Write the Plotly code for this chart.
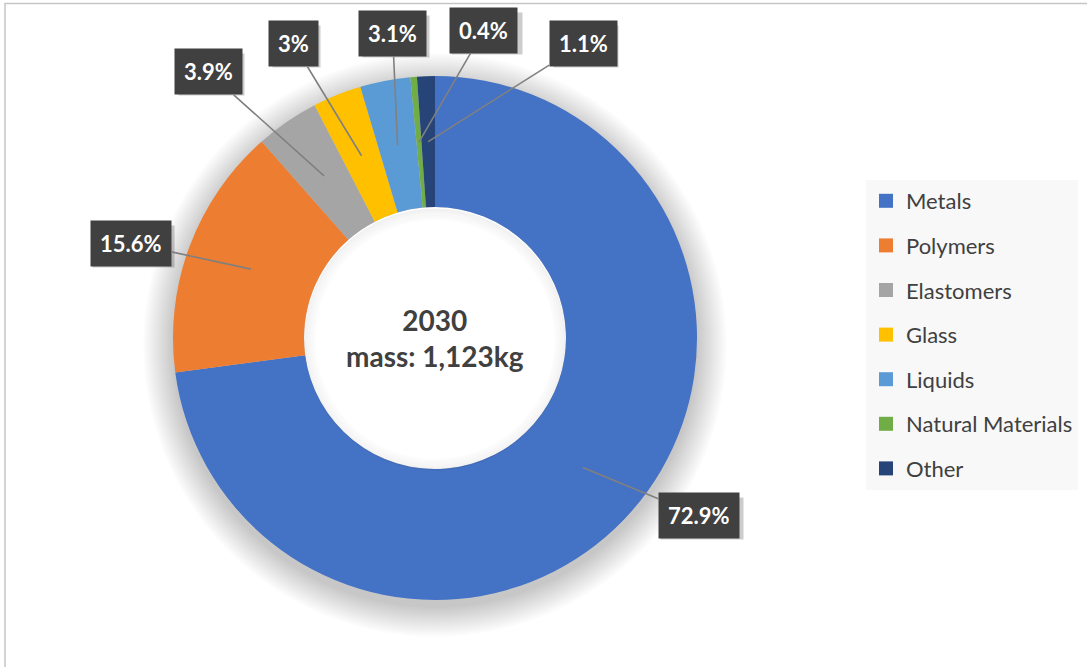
import math
import plotly.graph_objects as go

# ---- data ----
categories = ["Metals", "Polymers", "Elastomers", "Glass", "Liquids", "Natural Materials", "Other"]
shares = [72.9, 15.6, 3.9, 3.0, 3.1, 0.4, 1.1]
label_texts = ["72.9%", "15.6%", "3.9%", "3%", "3.1%", "0.4%", "1.1%"]
colors = ["#4472C4", "#ED7D31", "#A5A5A5", "#FFC000", "#5B9BD5", "#70AD47", "#264478"]
center_title = "2030"
center_sub = "mass: 1,123kg"

# ---- layout helpers ----
W, H = 1087, 667
label_offsets = [(116, 48), (-120, -26), (-116, -104), (-68, -112), (-5, -112), (65, -112), (155, -98)]
label_box_widths = [64, 63, 47, 29, 48, 52, 46]   # text box widths (px) used for the drop shadows
dom_x = [173 / W, 697 / W]
dom_y = [1 - 601 / H, 1 - 75 / H]
cx = (dom_x[0] + dom_x[1]) / 2
cy = (dom_y[0] + dom_y[1]) / 2
R = min((dom_x[1] - dom_x[0]) * W, (dom_y[1] - dom_y[0]) * H) / 2
hole = 0.5

fig = go.Figure()
fig.add_trace(go.Pie(
    labels=categories, values=shares, sort=False, direction="clockwise", rotation=0,
    hole=hole, marker=dict(colors=colors, line=dict(width=0)),
    textinfo="none", hoverinfo="label+percent", showlegend=False,
    domain=dict(x=dom_x, y=dom_y),
))

# legend entries
for cat, col in zip(categories, colors):
    fig.add_trace(go.Scatter(
        x=[None], y=[None], mode="markers", name=cat, legendgroup=cat,
        marker=dict(symbol="square", size=14, color=col), hoverinfo="skip",
    ))

def circ(r, dy=0.0, **kw):
    return dict(type="circle", xref="paper", yref="paper", xsizemode="pixel", ysizemode="pixel",
                xanchor=cx, yanchor=cy, x0=-r, x1=r, y0=-r + dy, y1=r + dy, **kw)

shapes = []
# soft shadow behind the ring
for i in range(14):
    r = R + 1 + i * 2.2
    shapes.append(circ(r, dy=-7, fillcolor="rgba(0,0,0,0.014)", line=dict(width=0), layer="below"))
# keep the hole clean
shapes.append(circ(R * hole, fillcolor="white", line=dict(width=0), layer="below"))
# inner shadow of the hole
for i in range(7):
    r = R * hole - 1 - i * 1.6
    shapes.append(circ(r, dy=-1.5, fillcolor="rgba(0,0,0,0)",
                       line=dict(width=1.8, color="rgba(0,0,0,%.3f)" % (0.05 - i * 0.0065)), layer="above"))
# frame
shapes.append(dict(type="rect", xref="paper", yref="paper",
                   x0=5 / W, x1=1.02, y0=-0.02, y1=1 - 3.5 / H,
                   line=dict(color="#c6c6c6", width=1.5), fillcolor="rgba(0,0,0,0)"))

annotations = []
total = sum(shares)
cum = 0.0
lab_font = dict(family="Lato", size=22, weight="bold")
for val, txt, (ox, oy), bw in zip(shares, label_texts, label_offsets, label_box_widths):
    mid = (cum + val / 2) / total * 2 * math.pi
    cum += val
    rho = R * (1 + hole) / 2
    ax_p = cx + rho * math.sin(mid) / W
    ay_p = cy + rho * math.cos(mid) / H
    # box drop shadow (empty box)
    annotations.append(dict(
        x=ax_p, y=ay_p, xref="paper", yref="paper", showarrow=True,
        ax=ox + 3, ay=oy + 3, text="\u00a0", width=bw, height=23,
        arrowcolor="rgba(0,0,0,0)", arrowwidth=0.1, arrowhead=0,
        font=dict(color="rgba(0,0,0,0)", **lab_font),
        bgcolor="rgba(0,0,0,0.2)", borderpad=9,
    ))
    annotations.append(dict(
        x=ax_p, y=ay_p, xref="paper", yref="paper", showarrow=True,
        ax=ox, ay=oy, text=txt, arrowhead=0, arrowwidth=1.6, arrowcolor="#808080",
        standoff=0, startstandoff=0,
        font=dict(color="white", **lab_font),
        bgcolor="#404040", borderpad=9,
    ))

annotations.append(dict(
    x=cx, y=cy, xref="paper", yref="paper", showarrow=False,
    text=f"{center_title}<br>{center_sub}", align="center",
    font=dict(family="Lato", size=28, color="#404040", weight="bold"),
))

fig.update_layout(
    width=W, height=H, margin=dict(l=0, r=0, t=0, b=0),
    paper_bgcolor="white", plot_bgcolor="white",
    xaxis=dict(visible=False), yaxis=dict(visible=False),
    shapes=shapes, annotations=annotations,
    showlegend=True,
    legend=dict(
        x=866 / W, y=1 - 180 / H, xanchor="left", yanchor="top",
        bgcolor="#f8f8f8", borderwidth=0, tracegroupgap=13,
        font=dict(family="Lato", size=22, color="#404040"),
        itemwidth=30,
    ),
    hovermode="closest",
)

fig.write_html("out.html")
